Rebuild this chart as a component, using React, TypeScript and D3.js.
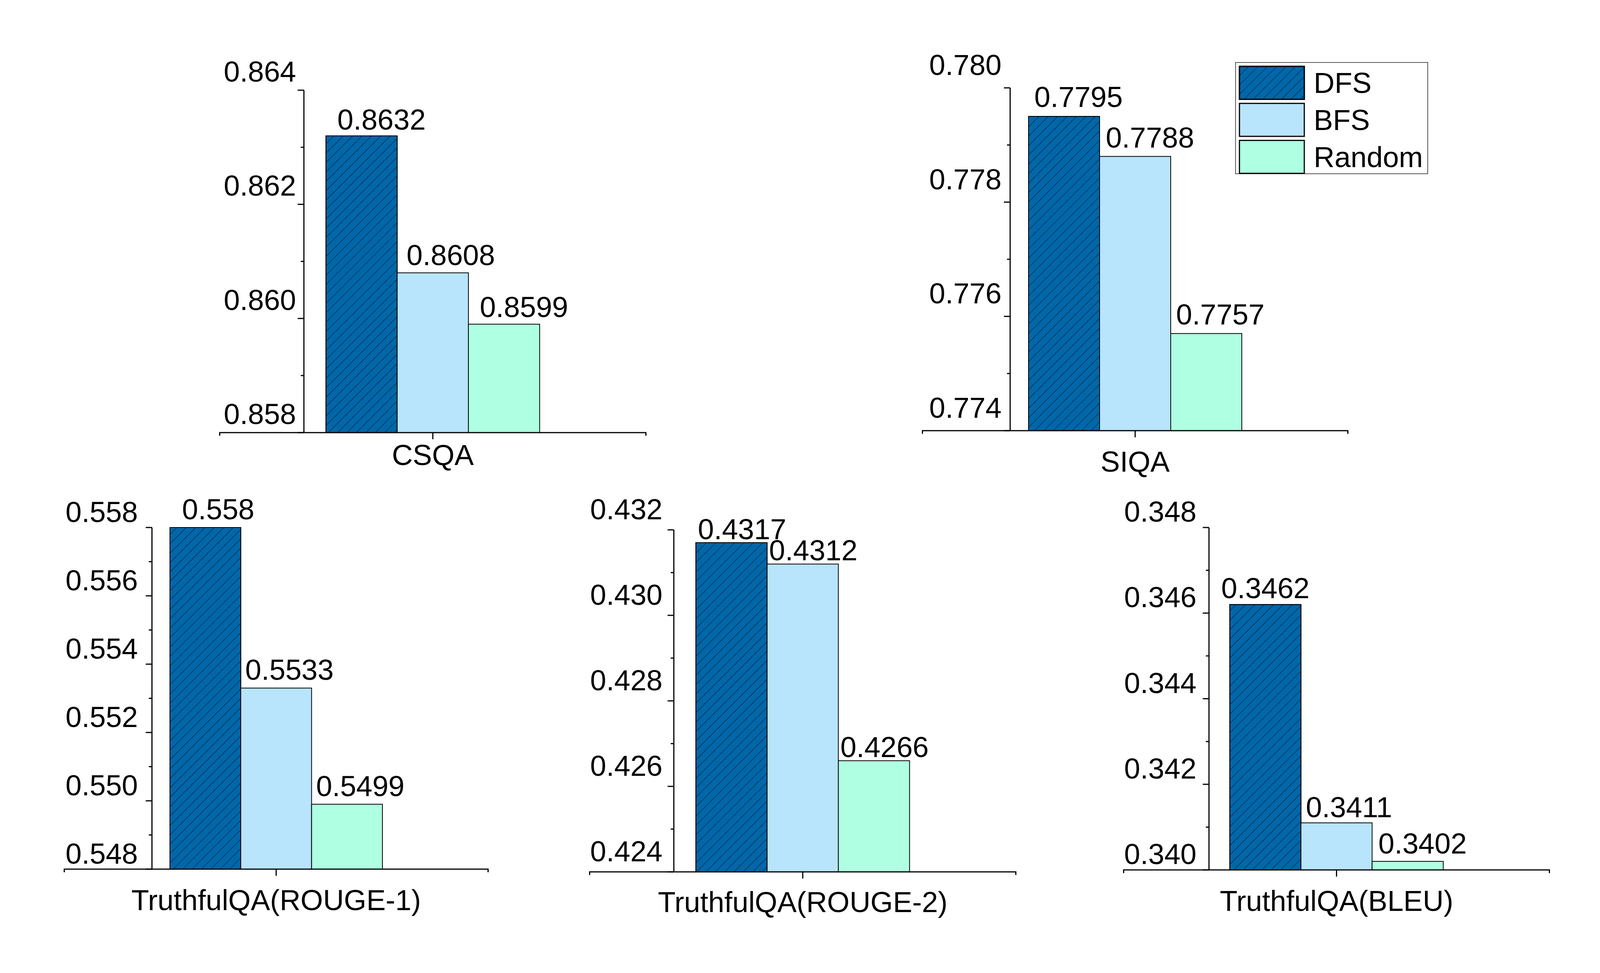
import React from 'react';
import * as d3 from 'd3';

// data
const categories = ['CSQA', 'SIQA', 'TruthfulQA(ROUGE-1)', 'TruthfulQA(ROUGE-2)', 'TruthfulQA(BLEU)'];
const seriesNames = ['DFS', 'BFS', 'Random'];
const dfsValues = [0.8632, 0.7795, 0.558, 0.4317, 0.3462];
const bfsValues = [0.8608, 0.7788, 0.5533, 0.4312, 0.3411];
const randomValues = [0.8599, 0.7757, 0.5499, 0.4266, 0.3402];
const yMins = [0.858, 0.774, 0.548, 0.424, 0.340];
const yMaxs = [0.864, 0.780, 0.558, 0.432, 0.348];

const seriesValues = [dfsValues, bfsValues, randomValues];

// layout of each panel (pixels)
const panels = [
  { x0: 561, x1: 1655, axisX: 778, top: 231, bottom: 1108, titleY: 1191, tickGap: 20, tickLift: 22, labelDx: [51, 46, 51], labelGap: [16, 20, 18] },
  { x0: 2360, x1: 3452, axisX: 2586, top: 225, bottom: 1103, titleY: 1208, tickGap: 22, tickLift: 33, labelDx: [37, 38, 36], labelGap: [24, 23, 23] },
  { x0: 163, x1: 1251, axisX: 389, top: 1351, bottom: 2226, titleY: 2331, tickGap: 36, tickLift: 14, labelDx: [33, 34, 34], labelGap: [21, 21, 21] },
  { x0: 1508, x1: 2602, axisX: 1725, top: 1357, bottom: 2233, titleY: 2336, tickGap: 29, tickLift: 27, labelDx: [27, 27, 27], labelGap: [9, 10, 9] },
  { x0: 2875, x1: 3968, axisX: 3095, top: 1351, bottom: 2228, titleY: 2333, tickGap: 32, tickLift: 15, labelDx: [0, 32, 38], labelGap: [16, 14, 20] },
];

const colors = ['#0067A9', '#B8E4FC', '#AFFFE2'];
const fontFamily = '"Liberation Sans", Arial, Helvetica, sans-serif';
const fontSize = 74;

const W = 4153;
const H = 2492;

function Panel({ i }: { i: number }) {
  const p = panels[i];
  const cat = categories[i];
  const x = d3.scaleBand<string>().domain([cat]).range([p.x0, p.x1]).paddingInner(0).paddingOuter(0.5);
  const xs = d3.scaleBand<string>().domain(seriesNames).range([0, x.bandwidth()]).padding(0);
  const y = d3.scaleLinear().domain([yMins[i], yMaxs[i]]).range([p.bottom, p.top]);
  const ticks = y.ticks(Math.round((yMaxs[i] - yMins[i]) * 1000));
  const fmt = d3.format('.3f');
  const gx = x(cat)!;
  const center = gx + x.bandwidth() / 2;

  return (
    <g>
      {seriesNames.map((s, k) => {
        const v = seriesValues[k][i];
        const bx = gx + xs(s)!;
        const by = y(v);
        return (
          <g key={s}>
            <rect x={bx} y={by} width={xs.bandwidth()} height={p.bottom - by} fill={colors[k]} stroke="#000" strokeWidth={2} />
            {k === 0 && (
              <rect x={bx} y={by} width={xs.bandwidth()} height={p.bottom - by} fill="url(#hatch)" stroke="#000" strokeWidth={2} />
            )}
            <text x={bx + xs.bandwidth() / 2 + p.labelDx[k]} y={by - p.labelGap[k]} textAnchor="middle">
              {String(v)}
            </text>
          </g>
        );
      })}
      {/* y axis */}
      <line x1={p.axisX} x2={p.axisX} y1={p.top} y2={p.bottom} stroke="#000" strokeWidth={3} />
      {ticks.map(t => {
        const major = Math.round(t * 1000) % 2 === 0;
        return (
          <g key={t}>
            <line x1={p.axisX - (major ? 16 : 8)} x2={p.axisX} y1={y(t)} y2={y(t)} stroke="#000" strokeWidth={3} />
            {major && (
              <text x={p.axisX - p.tickGap} y={y(t) - p.tickLift} textAnchor="end">{fmt(t)}</text>
            )}
          </g>
        );
      })}
      {/* x axis */}
      <line x1={p.x0} x2={p.x1} y1={p.bottom} y2={p.bottom} stroke="#000" strokeWidth={3} />
      <line x1={p.x0 + 1.5} x2={p.x0 + 1.5} y1={p.bottom} y2={p.bottom + 8} stroke="#000" strokeWidth={3} />
      <line x1={p.x1 - 1.5} x2={p.x1 - 1.5} y1={p.bottom} y2={p.bottom + 8} stroke="#000" strokeWidth={3} />
      <line x1={center} x2={center} y1={p.bottom} y2={p.bottom + 17} stroke="#000" strokeWidth={3} />
      <text x={center} y={p.titleY} textAnchor="middle">{cat}</text>
    </g>
  );
}

function Legend() {
  const x0 = 3163;
  const y0 = 160;
  const rowY = d3.scaleBand<string>().domain(seriesNames).range([170, 444]).paddingInner(0.11);
  return (
    <g>
      <rect x={x0} y={y0} width={492} height={285} fill="#fff" stroke="#555" strokeWidth={2} />
      {seriesNames.map((s, k) => {
        const ry = rowY(s)!;
        return (
          <g key={s}>
            <rect x={3173} y={ry} width={166} height={rowY.bandwidth()} fill={colors[k]} stroke="#000" strokeWidth={3} />
            {k === 0 && <rect x={3173} y={ry} width={166} height={rowY.bandwidth()} fill="url(#hatch)" stroke="#000" strokeWidth={3} />}
            <text x={3363} y={ry + rowY.bandwidth() / 2 + 26}>{s}</text>
          </g>
        );
      })}
    </g>
  );
}

export default function App() {
  return (
    <svg width={W} height={H} viewBox={`0 0 ${W} ${H}`}
      style={{ position: 'absolute', left: 0, top: 0, background: '#fff' }}
      fontFamily={fontFamily} fontSize={fontSize} fill="#000">
      <defs>
        <pattern id="hatch" patternUnits="userSpaceOnUse" width={17} height={17} patternTransform="rotate(45)">
          <line x1={0} y1={0} x2={0} y2={17} stroke="#0a1a2e" strokeWidth={2.2} />
        </pattern>
      </defs>
      <rect width={W} height={H} fill="#fff" />
      {categories.map((c, i) => <Panel key={c} i={i} />)}
      <Legend />
    </svg>
  );
}
